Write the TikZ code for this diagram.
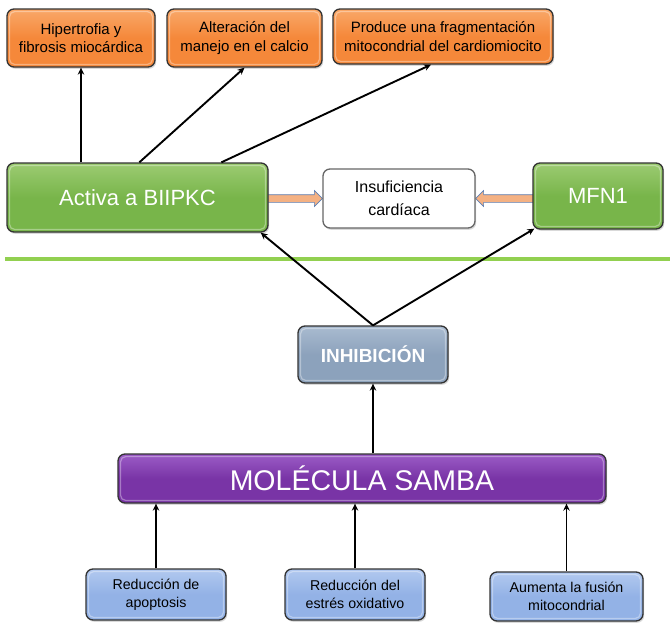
\documentclass[tikz,border=0pt]{standalone}
\usepackage{fontspec}
\setmainfont{Liberation Sans}
\usetikzlibrary{arrows.meta,shadows,calc,backgrounds}

\definecolor{edgegray}{HTML}{333333}
\definecolor{orangefill}{HTML}{F5883A}
\definecolor{orangetop}{HTML}{F9A869}
\definecolor{greenfill}{HTML}{78B54A}
\definecolor{greentop}{HTML}{9CCB72}
\definecolor{bluegray}{HTML}{8CA2BC}
\definecolor{bluegraytop}{HTML}{A9BBD0}
\definecolor{purplefill}{HTML}{7934A6}
\definecolor{purpletop}{HTML}{9B5CC6}
\definecolor{lightblue}{HTML}{93B2E6}
\definecolor{lightbluetop}{HTML}{B2C9EF}
\definecolor{peach}{HTML}{F4B183}
\definecolor{peachedge}{HTML}{5B7FB5}
\definecolor{sepgreen}{HTML}{92D050}

\tikzset{
  innerrim/.style={path picture={
    \draw[white, opacity=0.35, line width=1.2pt, rounded corners=5pt]
      ($(path picture bounding box.north west)+(2.6pt,-2.6pt)$) rectangle
      ($(path picture bounding box.south east)+(-2.6pt,2.6pt)$);}},
  boxbase/.style={rounded corners=7pt, draw=edgegray, line width=1.3pt,
    inner sep=0pt, align=center,
    drop shadow={shadow xshift=1.2pt, shadow yshift=-1.8pt, opacity=0.3}},
  orangebox/.style={boxbase, innerrim, top color=orangetop, bottom color=orangefill,
    middle color=orangefill, text=black, font=\fontsize{15}{18.5}\selectfont},
  greenbox/.style={boxbase, innerrim, top color=greentop, bottom color=greenfill,
    middle color=greenfill, text=white, font=\fontsize{22}{26}\selectfont},
  whitebox/.style={boxbase, draw=gray!80!black, fill=white, text=black,
    font=\fontsize{16}{23}\selectfont},
  grayblue/.style={boxbase, innerrim, top color=bluegraytop, bottom color=bluegray,
    middle color=bluegray, text=white, font=\fontsize{19}{22}\selectfont\bfseries},
  purplebox/.style={boxbase, innerrim, top color=purpletop, bottom color=purplefill,
    middle color=purplefill, text=white, font=\fontsize{28.5}{32}\selectfont},
  bluebox/.style={boxbase, innerrim, top color=lightbluetop, bottom color=lightblue,
    middle color=lightblue, text=black, font=\fontsize{14.2}{18.3}\selectfont},
  arr/.style={line width=1.9pt, -{Stealth[length=7pt,width=6.5pt]}},
  peacharrow/.style={fill=peach, draw=peachedge, line width=0.6pt, line join=miter},
  sepline/.style={draw=sepgreen, line width=4pt}
}

\begin{document}
\begin{tikzpicture}[x=1pt,y=-1pt]
\useasboundingbox (0,0) rectangle (670,622);

% top row: consequences
\node[orangebox, minimum width=148, minimum height=58] (o1) at (81,38)
  {Hipertrofia y\\fibrosis miocárdica};
\node[orangebox, minimum width=155, minimum height=58] (o2) at (244.5,38)
  {Alteración del\\manejo en el calcio};
\node[orangebox, minimum width=220, minimum height=55] (o3) at (443,36.5)
  {Produce una fragmentación\\mitocondrial del cardiomiocito};

% middle row
\node[greenbox, minimum width=261, minimum height=69] (act) at (137.5,197.5)
  {Activa a BIIPKC};
\node[whitebox, minimum width=152, minimum height=59] (ins) at (399,198.5)
  {Insuficiencia\\cardíaca};
\node[greenbox, minimum width=130, minimum height=66] (mfn) at (598,196)
  {MFN1};

% separator
\draw[sepline] (5,259) -- (670,259);

% lower part
\node[grayblue, minimum width=150, minimum height=57] (inh) at (373,354.5)
  {INHIBICIÓN};
\node[purplebox, minimum width=488, minimum height=49] (mol) at (362,478.5)
  {MOLÉCULA SAMBA};

\node[bluebox, minimum width=140, minimum height=51] (b1) at (156,594.5)
  {Reducción de\\apoptosis};
\node[bluebox, minimum width=140, minimum height=51] (b2) at (355,594.5)
  {Reducción del\\estrés oxidativo};
\node[bluebox, minimum width=153, minimum height=49] (b3) at (566.5,596.5)
  {Aumenta la fusión\\mitocondrial};

% block arrows towards heart failure
\begin{scope}[on background layer]
\coordinate (t1) at (ins.west);
\coordinate (s1) at (act.east |- ins.west);
\draw[peacharrow] ($(s1)+(-2,-3.8)$) -- ($(t1)+(-8,-3.8)$) -- ($(t1)+(-8,-8)$)
  -- (t1) -- ($(t1)+(-8,8)$) -- ($(t1)+(-8,3.8)$) -- ($(s1)+(-2,3.8)$) -- cycle;
\coordinate (t2) at (ins.east);
\coordinate (s2) at (mfn.west |- ins.east);
\draw[peacharrow] ($(s2)+(2,-3.8)$) -- ($(t2)+(8,-3.8)$) -- ($(t2)+(8,-8)$)
  -- (t2) -- ($(t2)+(8,8)$) -- ($(t2)+(8,3.8)$) -- ($(s2)+(2,3.8)$) -- cycle;
\end{scope}

% connectors
\draw[arr] (act.north -| o1.south) -- (o1.south);
\draw[arr] ($(act.north west)+(133,0)$) -- (o2.south);
\draw[arr] ($(act.north west)+(215,0)$) -- ($(o3.south)+(-12,0)$);

\draw[arr] (inh.north) -- ($(act.south east)+(-8,0)$);
\draw[arr] (inh.north) -- ($(mfn.south west)+(2,-1)$);

\draw[arr] (mol.north -| inh.south) -- (inh.south);

\draw[arr] (b1.north) -- (b1.north |- mol.south);
\draw[arr] (b2.north) -- (b2.north |- mol.south);
\draw[arr] (b3.north) -- (b3.north |- mol.south);
\end{tikzpicture}
\end{document}
